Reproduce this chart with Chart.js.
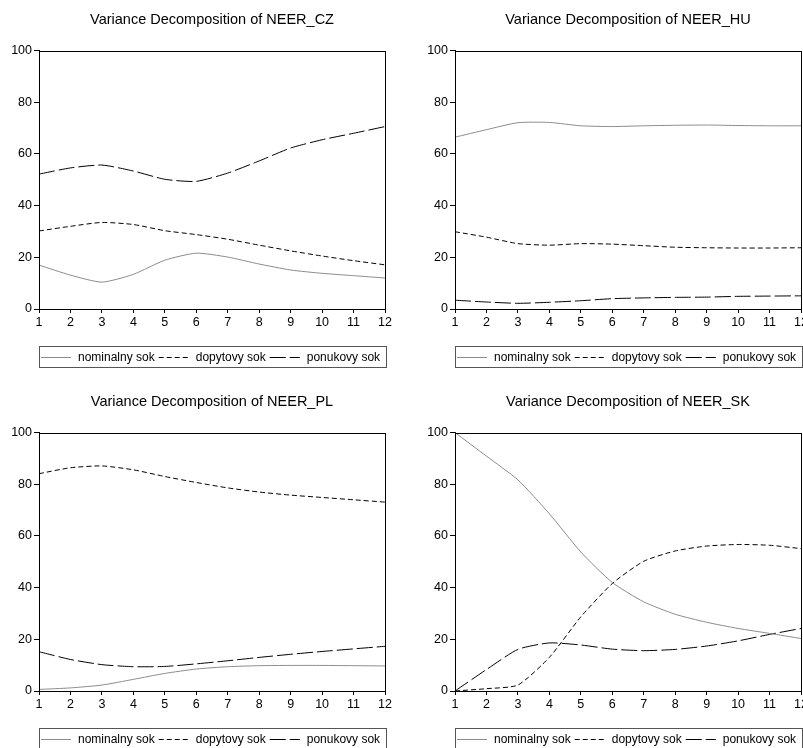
<!DOCTYPE html>
<html>
<head>
<meta charset="utf-8">
<script src="https://cdn.jsdelivr.net/npm/chart.js@4.4.1/dist/chart.umd.min.js"></script>
<style>
  html, body { margin: 0; padding: 0; background: #fff; }
  body { position: relative; width: 803px; height: 748px; overflow: hidden; }
  .panel { position: absolute; width: 400px; height: 382px; }
</style>
</head>
<body>
<div class="panel" style="left:0;top:0"><canvas id="cz" width="400" height="382"></canvas></div>
<div class="panel" style="left:416px;top:0"><canvas id="hu" width="400" height="382"></canvas></div>
<div class="panel" style="left:0;top:382px"><canvas id="pl" width="400" height="382"></canvas></div>
<div class="panel" style="left:416px;top:382px"><canvas id="sk" width="400" height="382"></canvas></div>
<script>
// periods of the decomposition
const periods = ['1', '2', '3', '4', '5', '6', '7', '8', '9', '10', '11', '12'];
const seriesNames = ['nominalny sok', 'dopytovy sok', 'ponukovy sok'];
const yTicks = [0, 20, 40, 60, 80, 100];

// NEER_CZ
const czNominal = [17.0, 13.1, 10.4, 13.4, 18.9, 21.6, 20.1, 17.4, 15.1, 13.8, 12.9, 12.0];
const czDemand  = [30.2, 32.0, 33.5, 32.7, 30.3, 28.8, 27.0, 24.7, 22.5, 20.5, 18.7, 17.1];
const czSupply  = [52.2, 54.6, 55.7, 53.4, 50.2, 49.4, 52.6, 57.3, 62.3, 65.5, 68.0, 70.6];

// NEER_HU
const huNominal = [66.5, 69.4, 72.1, 72.2, 70.9, 70.6, 70.9, 71.1, 71.2, 71.0, 70.9, 70.9];
const huDemand  = [29.9, 27.8, 25.3, 24.7, 25.3, 25.1, 24.5, 23.9, 23.7, 23.6, 23.6, 23.7];
const huSupply  = [3.4, 2.7, 2.2, 2.6, 3.2, 4.0, 4.3, 4.5, 4.6, 4.9, 5.0, 5.1];

// NEER_PL
const plNominal = [0.6, 1.2, 2.3, 4.5, 6.8, 8.5, 9.4, 9.8, 9.9, 9.9, 9.8, 9.7];
const plDemand  = [84.1, 86.4, 87.1, 85.6, 83.0, 80.7, 78.6, 77.0, 75.8, 74.9, 74.0, 73.1];
const plSupply  = [15.2, 12.2, 10.2, 9.4, 9.5, 10.5, 11.7, 13.0, 14.2, 15.3, 16.3, 17.3];

// NEER_SK
const skNominal = [100.0, 90.9, 81.7, 68.6, 53.8, 42.0, 34.5, 29.7, 26.6, 24.2, 22.3, 20.3];
const skDemand  = [0.0, 0.9, 2.3, 13.0, 28.7, 41.6, 50.2, 54.2, 56.1, 56.7, 56.4, 55.1];
const skSupply  = [0.0, 8.3, 16.1, 18.6, 17.8, 16.2, 15.6, 16.1, 17.4, 19.4, 21.9, 24.2];

Chart.defaults.font.family = '"Liberation Sans", Arial, sans-serif';
Chart.defaults.color = '#000';

const lineStyles = [
  { borderColor: '#8c8c8c', borderDash: [] },
  { borderColor: '#000', borderDash: [5, 3] },
  { borderColor: '#000', borderDash: [16, 4] }
];

// box round the plot and the boxed legend under it
const frameAndLegend = {
  id: 'frameAndLegend',
  afterDatasetsDraw(chart) {
    const ctx = chart.ctx;
    const a = chart.chartArea;
    ctx.save();
    ctx.strokeStyle = '#000';
    ctx.lineWidth = 1;
    ctx.strokeRect(Math.round(a.left) + 0.5, Math.round(a.top) + 0.5,
      Math.round(a.right - a.left), Math.round(a.bottom - a.top));

    const top = Math.round(a.bottom) + 37;
    const h = 21;
    ctx.strokeStyle = '#555';
    ctx.strokeRect(Math.round(a.left) + 0.5, top + 0.5, Math.round(a.right - a.left) + 1, h);
    ctx.font = '12px "Liberation Sans", Arial, sans-serif';
    ctx.textBaseline = 'middle';
    const y = top + Math.round(h / 2) + 0.5;
    let x = a.left + 2;
    chart.data.datasets.forEach(ds => {
      ctx.strokeStyle = ds.borderColor;
      ctx.setLineDash(ds.borderDash);
      ctx.beginPath();
      ctx.moveTo(x, y);
      ctx.lineTo(x + 30, y);
      ctx.stroke();
      ctx.setLineDash([]);
      ctx.fillStyle = '#000';
      ctx.fillText(ds.label, x + 37, y);
      x += 37 + ctx.measureText(ds.label).width + 4;
    });
    ctx.restore();
  }
};

function drawPanel(id, title, values) {
  new Chart(document.getElementById(id), {
    type: 'line',
    data: {
      labels: periods,
      datasets: values.map((v, i) => ({
        label: seriesNames[i],
        data: v,
        borderColor: lineStyles[i].borderColor,
        borderDash: lineStyles[i].borderDash,
        borderWidth: 1,
        pointRadius: 0,
        tension: 0.2,
        fill: false
      }))
    },
    options: {
      responsive: false,
      animation: false,
      layout: { padding: { top: 0, right: 15, bottom: 43, left: 0 } },
      plugins: {
        legend: { display: false },
        tooltip: { enabled: false },
        title: {
          display: true,
          text: title,
          fullSize: false,
          color: '#000',
          font: { size: 14.5, weight: 'normal' },
          padding: { top: 11.6, bottom: 21.6 }
        }
      },
      scales: {
        x: {
          offset: false,
          grid: { drawOnChartArea: false, drawTicks: true, tickLength: 4, color: '#000' },
          border: { display: true, color: '#000', width: 1 },
          ticks: { color: '#000', font: { size: 12.5 }, padding: 2, maxRotation: 0, autoSkip: false },
          afterFit(scale) { scale.height = 30; scale.paddingLeft = 0; scale.paddingRight = 0; }
        },
        y: {
          min: yTicks[0],
          max: yTicks[yTicks.length - 1],
          afterBuildTicks(scale) { scale.ticks = yTicks.map(v => ({ value: v })); },
          grid: { drawOnChartArea: false, drawTicks: true, tickLength: 5, color: '#000' },
          border: { display: true, color: '#000', width: 1 },
          ticks: { color: '#000', font: { size: 12.5 }, padding: 2 },
          afterFit(scale) { scale.width = 39; scale.paddingTop = 0; scale.paddingBottom = 0; }
        }
      }
    },
    plugins: [frameAndLegend]
  });
}

drawPanel('cz', 'Variance Decomposition of NEER_CZ', [czNominal, czDemand, czSupply]);
drawPanel('hu', 'Variance Decomposition of NEER_HU', [huNominal, huDemand, huSupply]);
drawPanel('pl', 'Variance Decomposition of NEER_PL', [plNominal, plDemand, plSupply]);
drawPanel('sk', 'Variance Decomposition of NEER_SK', [skNominal, skDemand, skSupply]);
</script>
</body>
</html>
